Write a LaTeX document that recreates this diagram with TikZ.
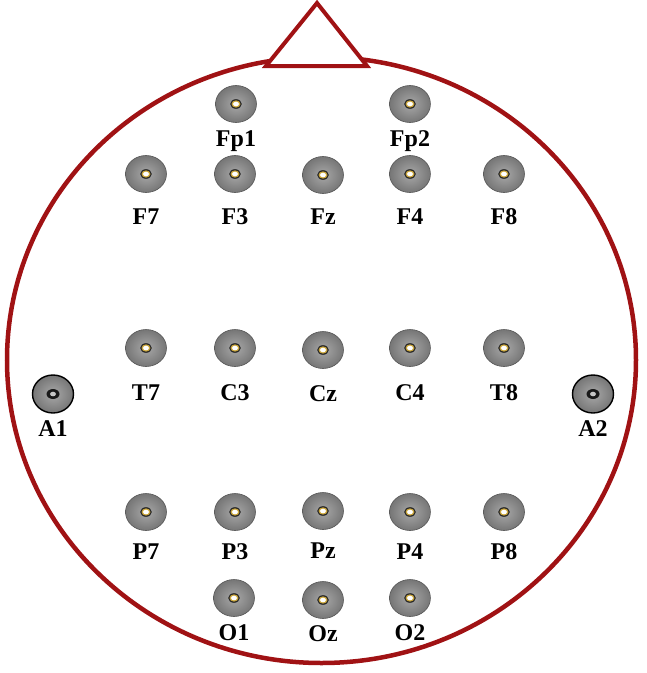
\documentclass[tikz,border=0pt]{standalone}
\usepackage{fontspec}
\setmainfont{Liberation Serif}
\usetikzlibrary{positioning,shapes.geometric}

\definecolor{headred}{RGB}{160,18,20}
\definecolor{holering}{RGB}{205,168,60}
\definecolor{elecin}{RGB}{168,168,168}
\definecolor{elecout}{RGB}{118,118,118}
\definecolor{elecrim}{RGB}{85,85,85}

\begin{document}
\begin{tikzpicture}[
          x=1pt, y=1pt,
          elec/.style={ellipse, minimum width=41pt, minimum height=37pt, inner sep=0pt,
            draw=elecrim, line width=0.6pt, inner color=elecin, outer color=elecout,
            path picture={
              \fill[black!85] (path picture bounding box.center) ellipse (5.8pt and 4.8pt);
              \fill[holering] (path picture bounding box.center) ellipse (4.5pt and 3.6pt);
              \fill[white]    (path picture bounding box.center) ellipse (3pt and 2.3pt);}},
          earel/.style={ellipse, minimum width=41pt, minimum height=38pt, inner sep=0pt,
            draw=black, line width=1.4pt, inner color=elecin, outer color=elecout,
            path picture={
              \fill[black!90] (path picture bounding box.center) ellipse (6.5pt and 5pt);
              \fill[gray!45]  (path picture bounding box.center) ellipse (3pt and 2.3pt);}},
          lbl/.style={font=\fontsize{24}{24}\selectfont\bfseries, inner sep=0pt,
            text height=16pt, text depth=5pt},
          head/.style={draw=headred, line width=4.5pt},
        ]
          \useasboundingbox (0,0) rectangle (647,-673);

          %% head outline and nose
          \node[head, ellipse, minimum width=629pt, minimum height=606pt, inner sep=0pt]
               (scalp) at (321.5,-360) {};
          \coordinate (noseL)   at (266,-66);
          \coordinate (noseTip) at (317,-3);
          \coordinate (noseR)   at (367,-66);
          \draw[head, fill=white, line width=4pt, line join=miter]
               (noseL) -- (noseTip) -- (noseR) -- cycle;

          %% scalp electrodes: name / x / y / gap to label
          \foreach \name/\x/\y/\g in {
              Fp1/236/104/7, Fp2/410/104/7,
              F7/146/174/15, F3/235/174/15, Fz/323/175/14, F4/410/174/15, F8/504/174/15,
              T7/146/348/17, C3/235/348/17, Cz/323/350/16, C4/410/348/17, T8/504/348/17,
              P7/146/512/12, P3/235/512/12, Pz/323/511/12, P4/410/512/12, P8/504/512/12,
              O1/234/598/7,  Oz/323/600/6,  O2/410/598/7}{
            \node[elec] (\name) at (\x,-\y) {};
            \node[lbl, below=\g pt of \name] (\name-lbl) {\name};
          }

          %% ear electrodes
          \foreach \name/\x in {A1/53, A2/593}{
            \node[earel] (\name) at (\x,-394) {};
            \node[lbl, below=7pt of \name] (\name-lbl) {\name};
          }
        \end{tikzpicture}
\end{document}
